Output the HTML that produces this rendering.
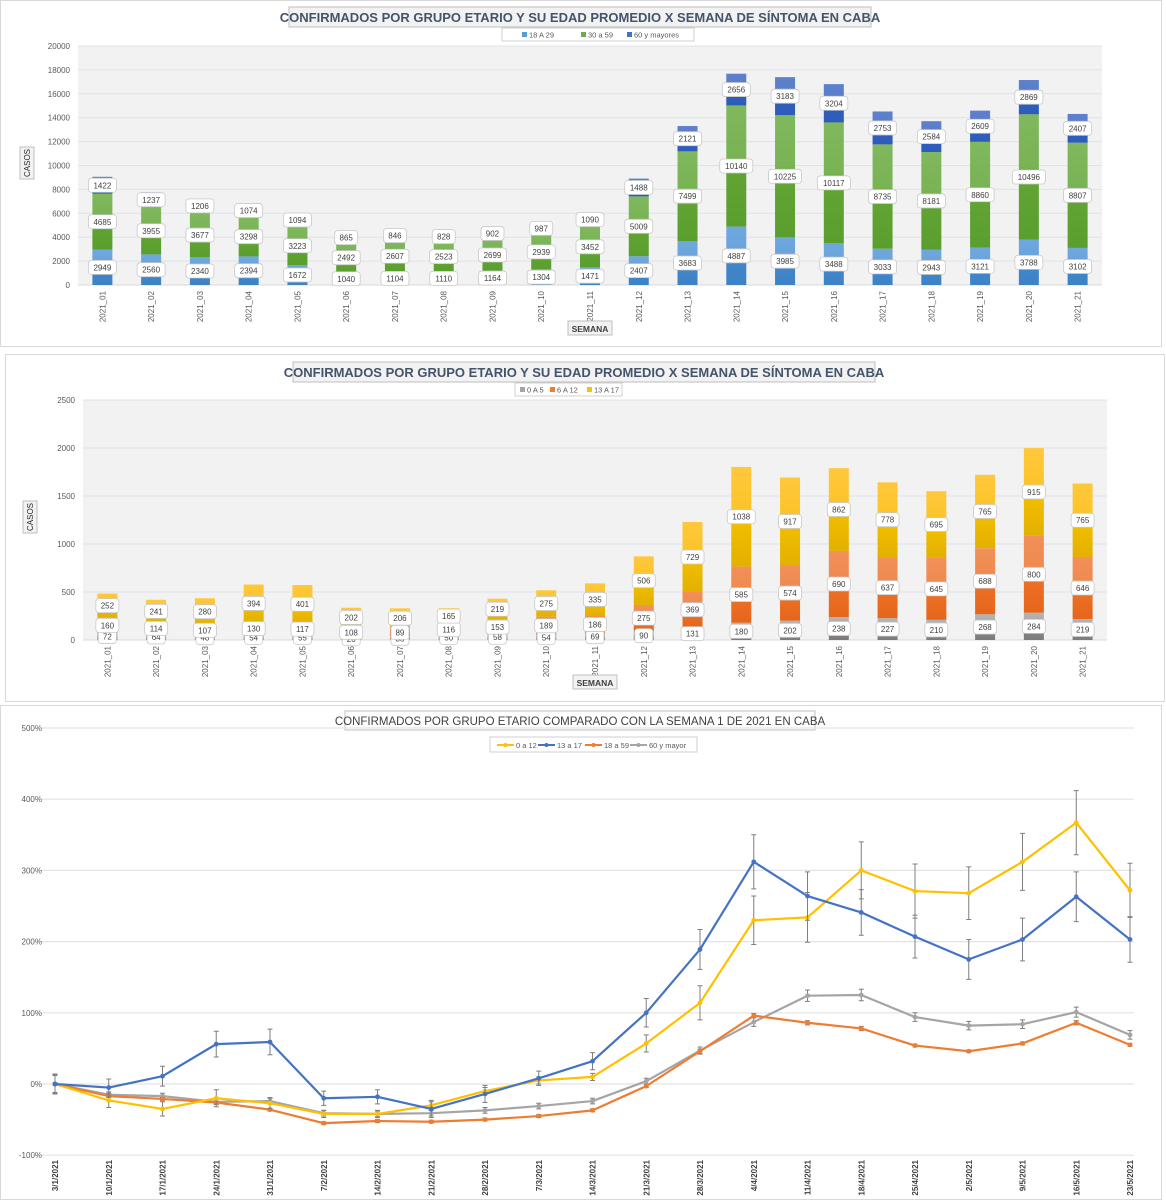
<!DOCTYPE html>
<html><head><meta charset="utf-8"><style>
body{margin:0;background:#fff;width:1166px;height:1200px;overflow:hidden;font-family:"Liberation Sans",sans-serif}
svg{display:block}
</style></head><body>
<svg id="root" width="1166" height="1200" xmlns="http://www.w3.org/2000/svg" font-family="Liberation Sans, sans-serif">
<defs>
<linearGradient id="gBlue" x1="0" y1="0" x2="0" y2="1"><stop offset="0" stop-color="#6fa7de"/><stop offset="0.42" stop-color="#6aa3dc"/><stop offset="0.48" stop-color="#4388cb"/><stop offset="1" stop-color="#3d82c6"/></linearGradient>
<linearGradient id="gGreen" x1="0" y1="0" x2="0" y2="1"><stop offset="0" stop-color="#80b85e"/><stop offset="0.42" stop-color="#78b354"/><stop offset="0.48" stop-color="#62a534"/><stop offset="1" stop-color="#5a9e2e"/></linearGradient>
<linearGradient id="gDBlue" x1="0" y1="0" x2="0" y2="1"><stop offset="0" stop-color="#5d80cc"/><stop offset="0.42" stop-color="#5a7ec9"/><stop offset="0.48" stop-color="#3060c0"/><stop offset="1" stop-color="#2d5cba"/></linearGradient>
<linearGradient id="gGrey" x1="0" y1="0" x2="0" y2="1"><stop offset="0" stop-color="#b4b4b4"/><stop offset="0.45" stop-color="#a8a8a8"/><stop offset="0.5" stop-color="#888"/><stop offset="1" stop-color="#7c7c7c"/></linearGradient>
<linearGradient id="gOrange" x1="0" y1="0" x2="0" y2="1"><stop offset="0" stop-color="#f29058"/><stop offset="0.42" stop-color="#ef8a4f"/><stop offset="0.48" stop-color="#ec7228"/><stop offset="1" stop-color="#e6661b"/></linearGradient>
<linearGradient id="gYellow" x1="0" y1="0" x2="0" y2="1"><stop offset="0" stop-color="#ffc83c"/><stop offset="0.42" stop-color="#fcc42a"/><stop offset="0.48" stop-color="#f5c000"/><stop offset="1" stop-color="#e2b100"/></linearGradient>
</defs>
<g id="c1"></g>
<g id="c2"></g>
<g id="c3"></g>
</svg>
<script>
const NS='http://www.w3.org/2000/svg';
const weeks=['2021_01','2021_02','2021_03','2021_04','2021_05','2021_06','2021_07','2021_08','2021_09','2021_10','2021_11','2021_12','2021_13','2021_14','2021_15','2021_16','2021_17','2021_18','2021_19','2021_20','2021_21'];
const s18a29=[2949,2560,2340,2394,1672,1040,1104,1110,1164,1304,1471,2407,3683,4887,3985,3488,3033,2943,3121,3788,3102];
const s30a59=[4685,3955,3677,3298,3223,2492,2607,2523,2699,2939,3452,5009,7499,10140,10225,10117,8735,8181,8860,10496,8807];
const s60mas=[1422,1237,1206,1074,1094,865,846,828,902,987,1090,1488,2121,2656,3183,3204,2753,2584,2609,2869,2407];
const ticks1=[0,2000,4000,6000,8000,10000,12000,14000,16000,18000,20000];
const s0a5=[72,64,48,54,55,26,35,50,58,54,69,90,131,180,202,238,227,210,268,284,219];
const s6a12=[160,114,107,130,117,108,89,116,153,189,186,275,369,585,574,690,637,645,688,800,646];
const s13a17=[252,241,280,394,401,202,206,165,219,275,335,506,729,1038,917,862,778,695,765,915,765];
const ticks2=[0,500,1000,1500,2000,2500];
const dates=['3/1/2021','10/1/2021','17/1/2021','24/1/2021','31/1/2021','7/2/2021','14/2/2021','21/2/2021','28/2/2021','7/3/2021','14/3/2021','21/3/2021','28/3/2021','4/4/2021','11/4/2021','18/4/2021','25/4/2021','2/5/2021','9/5/2021','16/5/2021','23/5/2021'];
const l0a12=[0,-23,-35,-20,-27,-42,-42,-30,-10,5,10,57,114,230,234,300,271,268,312,367,272];
const l13a17=[0,-5,11,56,59,-20,-18,-35,-14,8,32,100,189,312,264,241,207,175,203,263,203];
const l18a59=[0,-17,-21,-26,-36,-55,-52,-53,-50,-45,-37,-3,46,96,86,78,54,46,57,86,55];
const l60mas=[0,-15,-17,-25,-24,-41,-42,-41,-37,-31,-24,4,47,87,124,125,94,82,84,101,69];
const e0a12=[12,10,10,12,8,5,5,5,5,5,5,12,24,34,35,40,38,37,40,45,38];
const e13a17=[14,12,14,18,18,10,10,12,12,10,12,20,28,38,34,32,30,28,30,35,32];
const e18a59=[2,2,2,2,2,2,2,2,2,2,2,2,3,3,3,3,2,2,2,3,2];
const e60mas=[13,4,4,4,4,4,4,4,4,4,4,4,5,6,8,8,6,6,6,7,6];
const ticks3=[-100,0,100,200,300,400,500];

function el(p,tag,attrs,txt){const e=document.createElementNS(NS,tag);for(const k in attrs)e.setAttribute(k,attrs[k]);if(txt!==undefined)e.textContent=txt;p.appendChild(e);return e;}

function barChart(g,o){
  el(g,'rect',{x:o.bx,y:o.by,width:o.bw,height:o.bh,fill:'#fff',stroke:'#d9d9d9'});
  const tw=o.title.length*7.6;
  const tb=el(g,'rect',{x:o.tcx-tw/2-6,y:o.ty-14,width:tw+12,height:20,fill:'#f2f2f2',stroke:'#bfbfbf'});
  
  const tt=el(g,'text',{x:o.tcx,y:o.ty+1,'text-anchor':'middle','font-size':13,'font-weight':'bold',fill:'#44546a'},o.title);
  
  // legend
  const lg=el(g,'g',{});
  
  el(lg,'rect',{x:o.lx,y:o.ly,width:o.lw,height:13,fill:'#fff',stroke:'#d0d0d0'});
  o.series.forEach((s,i)=>{
    const ent=el(lg,'g',{});
    
    const x=o.lx+o.lpos[i];
    el(ent,'rect',{x:x,y:o.ly+4,width:5,height:5,fill:s.c});
    el(ent,'text',{x:x+7,y:o.ly+9.5,'font-size':7.5,fill:'#595959'},s.name);
  });
  // plot
  const px0=o.px0,px1=o.px1,py0=o.py0,py1=o.py1;
  el(g,'rect',{x:px0,y:py1,width:px1-px0,height:py0-py1,fill:'#f2f2f2'});
  const ymax=o.ticks[o.ticks.length-1];
  const Y=v=>py0-(v/ymax)*(py0-py1);
  const band=(px1-px0)/o.cats.length;
  const X=i=>px0+band*(i+0.5);
  o.ticks.forEach(t=>{
    if(t>0)el(g,'line',{x1:px0,x2:px1,y1:Y(t),y2:Y(t),stroke:'#dde3ec','stroke-width':1});
    const tl=el(g,'text',{x:px0-8,y:Y(t)+3,'text-anchor':'end','font-size':8,fill:'#595959'},String(t));
    
  });
  el(g,'line',{x1:px0,x2:px1,y1:py0,y2:py0,stroke:'#d9d9d9'});
  const labels=[];
  o.cats.forEach((c,i)=>{
    let acc=0;
    o.series.forEach((s,k)=>{
      const v=s.data[i];
      const r=el(g,'rect',{x:X(i)-10,y:Y(acc+v),width:20,height:Y(acc)-Y(acc+v),fill:s.grad});
      
      labels.push([X(i),(Y(acc)+Y(acc+v))/2,v]);
      acc+=v;
    });
    const xl=el(g,'text',{transform:`translate(${X(i)+3},${py0+6}) rotate(-90)`,'text-anchor':'end','font-size':8,fill:'#595959'},c);
    
  });
  labels.forEach(([x,y,v])=>{
    const s=String(v),w=s.length*5+8;
    const lb=el(g,'g',{});
    
    el(lb,'rect',{x:x-w/2,y:y-7,width:w,height:14,rx:3,fill:'#fff',stroke:'#c8c8c8','stroke-width':0.8});
    el(lb,'text',{x:x,y:y+3,'text-anchor':'middle','font-size':8,fill:'#404040'},s);
  });
  // axis titles
  const at=el(g,'g',{});
  
  el(at,'rect',{x:o.sx-22,y:o.sy-9,width:44,height:14,fill:'#f2f2f2',stroke:'#bfbfbf'});
  el(at,'text',{x:o.sx,y:o.sy+2,'text-anchor':'middle','font-size':8.5,'font-weight':'bold',fill:'#404040'},'SEMANA');
  const yt=el(g,'g',{});
  
  el(yt,'rect',{x:o.cx-7,y:o.cy-16,width:14,height:32,fill:'#f2f2f2',stroke:'#bfbfbf'});
  el(yt,'text',{transform:`translate(${o.cx+3},${o.cy}) rotate(-90)`,'text-anchor':'middle','font-size':8,fill:'#262626'},'CASOS');
}

barChart(document.getElementById('c1'),{
  bx:0.5,by:0.5,bw:1161,bh:346,title:'CONFIRMADOS POR GRUPO ETARIO Y SU EDAD PROMEDIO X SEMANA DE SÍNTOMA EN CABA',
  tcx:580,ty:21,lx:502,ly:28,lw:192,lpos:[20,79,125],
  series:[{name:'18 A 29',c:'#5b9bd5',grad:'url(#gBlue)',data:s18a29,key:'18a29'},
          {name:'30 a 59',c:'#70ad47',grad:'url(#gGreen)',data:s30a59,key:'30a59'},
          {name:'60 y mayores',c:'#4472c4',grad:'url(#gDBlue)',data:s60mas,key:'60mas'}],
  px0:78,px1:1102,py0:285,py1:46,ticks:ticks1,cats:weeks,sx:590,sy:330,cx:27,cy:163
});
barChart(document.getElementById('c2'),{
  bx:5.5,by:354.5,bw:1159,bh:347,title:'CONFIRMADOS POR GRUPO ETARIO Y SU EDAD PROMEDIO X SEMANA DE SÍNTOMA EN CABA',
  tcx:584,ty:376,lx:515,ly:383,lw:107,lpos:[5,35,72],
  series:[{name:'0 A 5',c:'#a5a5a5',grad:'url(#gGrey)',data:s0a5,key:'0a5'},
          {name:'6 A 12',c:'#ed7d31',grad:'url(#gOrange)',data:s6a12,key:'6a12'},
          {name:'13 A 17',c:'#ffc000',grad:'url(#gYellow)',data:s13a17,key:'13a17'}],
  px0:83,px1:1107,py0:640,py1:400,ticks:ticks2,cats:weeks,sx:595,sy:684,cx:30,cy:517
});

(function(){
  const g=document.getElementById('c3');
  el(g,'rect',{x:0.5,y:705.5,width:1161,height:494,fill:'#fff',stroke:'#d9d9d9'});
  const tb=el(g,'rect',{x:345,y:711,width:470,height:19,fill:'#fff',stroke:'#bfbfbf'});
  
  const tt=el(g,'text',{x:580,y:725,'text-anchor':'middle','font-size':11.5,fill:'#404040'},'CONFIRMADOS POR GRUPO ETARIO COMPARADO CON LA SEMANA 1 DE 2021 EN CABA');
  
  const px0=40,px1=1134;
  const Y=v=>1084-v*0.712;
  const X=i=>55+i*53.75;
  ticks3.forEach(t=>{
    el(g,'line',{x1:px0,x2:px1,y1:Y(t),y2:Y(t),stroke:'#e3e3e3','stroke-width':1.2});
    const tl=el(g,'text',{x:42,y:Y(t)+3,'text-anchor':'end','font-size':8,fill:'#595959'},t+'%');
    
  });
  dates.forEach((d,i)=>{
    const xl=el(g,'text',{transform:`translate(${X(i)+3},${1160}) rotate(-90)`,'text-anchor':'end','font-size':8,'font-weight':'bold',fill:'#404040'},d);
    
  });
  const series=[{n:'60 y mayor',c:'#a5a5a5',d:l60mas,e:e60mas,k:'60mas'},
    {n:'18 a 59',c:'#ed7d31',d:l18a59,e:e18a59,k:'18a59'},
    {n:'0 a 12',c:'#ffc000',d:l0a12,e:e0a12,k:'0a12'},
    {n:'13 a 17',c:'#4472c4',d:l13a17,e:e13a17,k:'13a17'}];
  series.forEach(s=>{
    const sg=el(g,'g',{});
    
    s.d.forEach((v,i)=>{
      const x=X(i),y1=Y(v+s.e[i]),y2=Y(v-s.e[i]);
      const eb=el(sg,'path',{d:`M${x},${y1}V${y2}M${x-2.5},${y1}H${x+2.5}M${x-2.5},${y2}H${x+2.5}`,stroke:'#7f7f7f','stroke-width':1,fill:'none'});
      
    });
    const pts=s.d.map((v,i)=>X(i)+','+Y(v)).join(' ');
    const pl=el(sg,'polyline',{points:pts,fill:'none',stroke:s.c,'stroke-width':2.2,'stroke-linejoin':'round'});
    
    s.d.forEach((v,i)=>{
      const m=el(sg,'circle',{cx:X(i),cy:Y(v),r:2.4,fill:s.c});
      
    });
  });
  const lg=el(g,'g',{});
  
  el(lg,'rect',{x:490,y:737,width:207,height:15,fill:'#fff',stroke:'#d0d0d0'});
  const leg=[['0 a 12','#ffc000',497],['13 a 17','#4472c4',538],['18 a 59','#ed7d31',585],['60 y mayor','#a5a5a5',630]];
  leg.forEach(([n,c,x])=>{
    const ent=el(lg,'g',{});
    
    el(ent,'line',{x1:x,x2:x+17,y1:745,y2:745,stroke:c,'stroke-width':2});
    el(ent,'circle',{cx:x+8.5,cy:745,r:2,fill:c});
    el(ent,'text',{x:x+19,y:748,'font-size':7.5,fill:'#595959'},n);
  });
})();
</script>
</body></html>
